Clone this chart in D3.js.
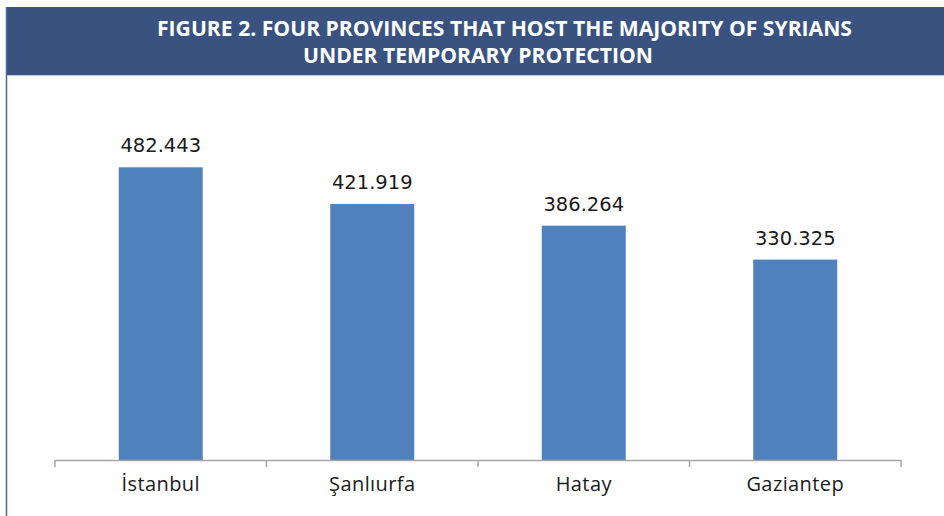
<!DOCTYPE html>
<html>
<head>
<meta charset="utf-8">
<script src="https://cdn.jsdelivr.net/npm/d3@7"></script>
<style>
  body { margin: 0; background: #fff; }
</style>
</head>
<body>
<script>
var provinces = ["İstanbul", "Şanlıurfa", "Hatay", "Gaziantep"];
var people = [482443, 421919, 386264, 330325];
var valueLabels = ["482.443", "421.919", "386.264", "330.325"];
var titleLines = ["FIGURE 2. FOUR PROVINCES THAT HOST THE MAJORITY OF SYRIANS", "UNDER TEMPORARY PROTECTION"];

var width = 944, height = 516;

var svg = d3.select('body').append('svg')
            .attr('width', width)
            .attr('height', height);

// title band
svg.append('rect').attr('x', 6).attr('y', 7).attr('width', width - 6).attr('height', 68)
   .attr('fill', '#39527f');
svg.append('line').attr('x1', 6).attr('x2', width).attr('y1', 75.5).attr('y2', 75.5)
   .attr('stroke', '#bccbe6').attr('stroke-width', 1);
svg.append('line').attr('x1', 6.5).attr('x2', 6.5).attr('y1', 7).attr('y2', height)
   .attr('stroke', '#4a68a0').attr('stroke-width', 1.5);

var titleSpots = [{x: 157, y: 36, w: 695}, {x: 303, y: 63, w: 350}];
svg.selectAll('text.title').data(titleLines).enter().append('text')
   .attr('class', 'title')
   .attr('x', function(d, i) { return titleSpots[i].x; })
   .attr('y', function(d, i) { return titleSpots[i].y; })
   .attr('textLength', function(d, i) { return titleSpots[i].w; })
   .attr('lengthAdjust', 'spacingAndGlyphs')
   .attr('fill', '#fff')
   .attr('font-family', 'Liberation Sans Narrow, Open Sans, sans-serif')
   .attr('font-weight', 'bold')
   .attr('font-size', 21.5)
   .text(function(d) { return d; });

var band = d3.scaleBand().domain(provinces).range([55, 901]);

var y = d3.scaleLinear()
          .domain([0, 600000])
          .range([460, 96]);

var chartGroup = svg.append('g');

chartGroup.selectAll('rect.bar').data(people).enter().append('rect')
   .attr('class', 'bar')
   .attr('x', function(d, i) { return band(provinces[i]) + band.bandwidth() / 2 - 42; })
   .attr('width', 84)
   .attr('y', function(d) { return y(d); })
   .attr('height', function(d) { return y(0) - y(d); })
   .attr('fill', '#4f81bd');

chartGroup.selectAll('text.value').data(people).enter().append('text')
   .attr('class', 'value')
   .attr('x', function(d, i) { return band(provinces[i]) + band.bandwidth() / 2; })
   .attr('y', function(d) { return y(d) - 15; })
   .attr('text-anchor', 'middle')
   .attr('font-family', 'DejaVu Sans, Verdana, sans-serif')
   .attr('font-size', 19.5)
   .attr('fill', '#1a1a1a')
   .text(function(d, i) { return valueLabels[i]; });

var xAxis = d3.axisBottom(band).tickSize(0).tickPadding(17);

var axisG = chartGroup.append('g')
   .attr('transform', 'translate(0,460)')
   .call(xAxis);
axisG.select('.domain').remove();
axisG.append('line').attr('x1', 55).attr('x2', 901).attr('y1', 0.5).attr('y2', 0.5)
   .attr('stroke', '#a6a6a6').attr('stroke-width', 1.5);
axisG.selectAll('line.sep').data(d3.range(provinces.length + 1)).enter().append('line')
   .attr('class', 'sep')
   .attr('x1', function(i) { return 55 + i * band.step(); })
   .attr('x2', function(i) { return 55 + i * band.step(); })
   .attr('y1', 0).attr('y2', 7)
   .attr('stroke', '#a6a6a6').attr('stroke-width', 1.5);
axisG.selectAll('.tick text')
   .attr('font-family', 'Open Sans, sans-serif')
   .attr('font-size', 20)
   .attr('letter-spacing', 0.4)
   .attr('fill', '#1a1a1a');
</script>
</body>
</html>
